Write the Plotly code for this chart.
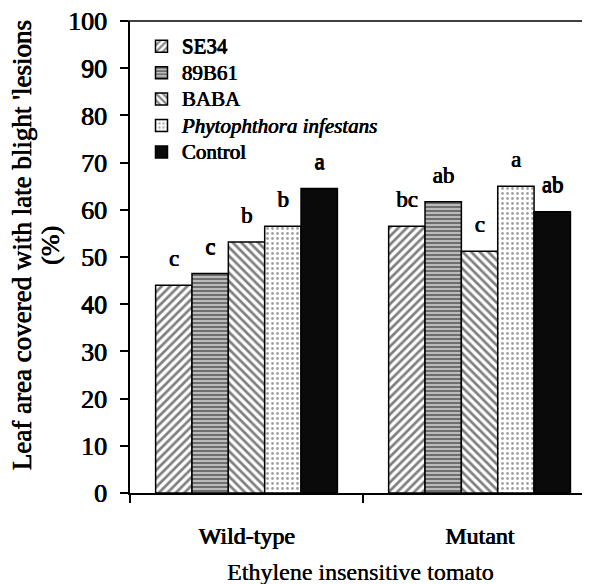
import plotly.graph_objects as go

categories = ["Wild-type", "Mutant"]
series_names = ["SE34", "89B61", "BABA", "<i>Phytophthora infestans</i>", "Control"]
se34 = [44.0, 56.5]
b89b61 = [46.5, 61.7]
baba = [53.2, 51.2]
phyto = [56.5, 65.0]
control = [64.5, 59.6]
letters_se34 = ["c", "bc"]
letters_89b61 = ["c", "ab"]
letters_baba = ["b", "c"]
letters_phyto = ["b", "a"]
letters_control = ["a", "ab"]
y_ticks = [0, 10, 20, 30, 40, 50, 60, 70, 80, 90, 100]

values = [se34, b89b61, baba, phyto, control]
letters = [letters_se34, letters_89b61, letters_baba, letters_phyto, letters_control]
patterns = [
    dict(shape="/", fgcolor="black", bgcolor="white", size=6, solidity=0.45),
    dict(shape="-", fgcolor="#222", bgcolor="#bbb", size=4, solidity=0.5),
    dict(shape="\\", fgcolor="black", bgcolor="white", size=6, solidity=0.45),
    dict(shape=".", fgcolor="#444", bgcolor="white", size=5, solidity=0.25),
    dict(shape="", fgcolor="black", bgcolor="black"),
]
colors = ["white", "#bbb", "white", "white", "#0a0a0a"]

FONT = "Liberation Serif, Times New Roman, serif"
BOLD = "0.8px 0 0 #000, 0.4px 0.3px 0 #000"  # faux-bold (no bold serif face available)

fig = go.Figure()
for i, (name, vals, pat, col) in enumerate(zip(series_names, values, patterns, colors)):
    fig.add_trace(go.Bar(
        x=categories, y=vals, name='<span style="font-size:21px">' + name + "</span>",
        offsetgroup=str(i),
        marker=dict(color=col, pattern=pat, line=dict(color="black", width=1.5)),
    ))
for i, (vals, lets) in enumerate(zip(values, letters)):
    fig.add_trace(go.Scatter(
        x=categories, y=vals, text=lets, mode="markers+text", offsetgroup=str(i),
        textposition="top center", marker=dict(size=20, opacity=0),
        textfont=dict(family=FONT, size=23, color="black", shadow=BOLD),
        showlegend=False, cliponaxis=False, hoverinfo="skip",
    ))

fig.update_layout(
    width=582, height=576,
    margin=dict(l=122, r=0, t=13, b=91),
    paper_bgcolor="white", plot_bgcolor="white",
    barmode="group", bargap=0.22, bargroupgap=0,
    scattermode="group", scattergap=0.22,
    font=dict(family=FONT, color="black"),
    legend=dict(
        x=0.025, y=0.985, xanchor="left", yanchor="top",
        font=dict(family=FONT, size=18, color="black", shadow=BOLD),
        bgcolor="rgba(0,0,0,0)", itemwidth=30, tracegroupgap=0,
    ),
    xaxis=dict(
        range=[-0.5, 1.474], showline=True, linecolor="black", linewidth=2,
        ticks="outside", tickson="boundaries", ticklen=8, tickcolor="black", tickwidth=2,
        tickfont=dict(family=FONT, size=24, shadow=BOLD),
        ticklabelstandoff=20, automargin=False,
        showgrid=False,
    ),
    yaxis=dict(
        range=[0, 100], tickvals=y_ticks, showline=True, linecolor="black", linewidth=2,
        ticks="outside", ticklen=8, tickcolor="black", tickwidth=2,
        tickfont=dict(family=FONT, size=26, shadow=BOLD),
        ticklabelstandoff=8, automargin=False, ticklabeloverflow="allow",
        showgrid=False, zeroline=False,
    ),
    annotations=[
        dict(text="Leaf area covered with late blight 'lesions",
             xref="paper", yref="paper", x=-0.234, y=0.525, textangle=-90,
             showarrow=False, font=dict(family=FONT, size=27, color="black", shadow=BOLD),
             xanchor="center", yanchor="middle"),
        dict(text="(%)",
             xref="paper", yref="paper", x=-0.174, y=0.525, textangle=-90,
             showarrow=False, font=dict(family=FONT, size=26, color="black", shadow=BOLD),
             xanchor="center", yanchor="middle"),
        dict(text="Ethylene insensitive tomato", xref="paper", yref="paper",
             x=0.5, y=-0.168, showarrow=False, xanchor="center", yanchor="middle",
             font=dict(family=FONT, size=24, color="black", shadow="0.3px 0 0 #000")),
    ],
)
fig.add_shape(type="line", xref="paper", yref="paper", x0=-0.01, x1=1, y0=1, y1=1,
              line=dict(color="black", width=1.5))
fig.write_html("out.html")
